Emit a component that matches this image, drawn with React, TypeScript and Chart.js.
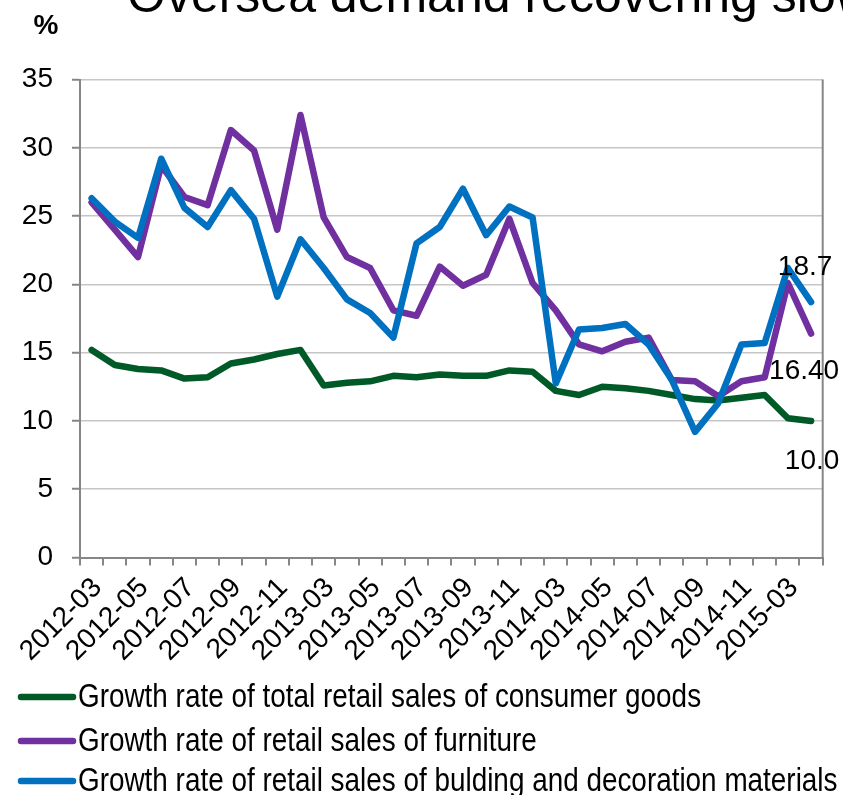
import { useEffect, useRef } from 'react';
import { Chart, registerables } from 'chart.js';

Chart.register(...registerables);

const FONT = '"Liberation Sans", Arial, sans-serif';
const TITLE = 'Oversea demand recovering slowly';
const UNIT = '%';

const categories = [
  '2012-03', '2012-04', '2012-05', '2012-06', '2012-07', '2012-08', '2012-09', '2012-10', '2012-11', '2012-12',
  '2013-03', '2013-04', '2013-05', '2013-06', '2013-07', '2013-08', '2013-09', '2013-10', '2013-11', '2013-12',
  '2014-03', '2014-04', '2014-05', '2014-06', '2014-07', '2014-08', '2014-09', '2014-10', '2014-11', '2014-12',
  '2015-03', '2015-04',
];

const consumerGoods = [
  15.2, 14.1, 13.8, 13.7, 13.1, 13.2, 14.2, 14.5, 14.9, 15.2,
  12.6, 12.8, 12.9, 13.3, 13.2, 13.4, 13.3, 13.3, 13.7, 13.6,
  12.2, 11.9, 12.5, 12.4, 12.2, 11.9, 11.6, 11.5, 11.7, 11.9,
  10.2, 10.0,
];

const furniture = [
  26.0, 24.0, 22.0, 28.7, 26.4, 25.8, 31.3, 29.8, 24.0, 32.4,
  24.9, 22.0, 21.2, 18.1, 17.7, 21.3, 19.9, 20.7, 24.8, 20.1,
  18.1, 15.6, 15.1, 15.8, 16.1, 13.0, 12.9, 11.8, 12.9, 13.2,
  20.1, 16.4,
];

const buildingMaterials = [
  26.3, 24.6, 23.4, 29.2, 25.6, 24.2, 26.9, 24.8, 19.1, 23.3,
  21.2, 18.9, 17.9, 16.1, 23.0, 24.2, 27.0, 23.6, 25.7, 24.9,
  12.75, 16.7, 16.8, 17.1, 15.6, 13.0, 9.2, 11.3, 15.6, 15.7,
  21.2, 18.7,
];

const seriesNames = [
  'Growth rate of total retail sales of consumer goods',
  'Growth rate of retail sales of furniture',
  'Growth rate of retail sales of bulding and decoration materials',
];
const seriesColors = ['#005a27', '#7030a0', '#0070c0'];
const endLabelDigits = [1, 2, 1];
const endLabelOffsets = [
  { dx: 1, dy: 40 },
  { dx: -7, dy: 38 },
  { dx: -6, dy: -35 },
];

const yTicks = { min: 0, max: 35, step: 5 };

const decorPlugin = {
  id: 'decor',
  afterDraw(chart: any) {
    const ctx = chart.ctx;
    const { chartArea, scales } = chart;
    ctx.save();
    // right border
    ctx.strokeStyle = '#868686';
    ctx.lineWidth = 2;
    ctx.beginPath();
    ctx.moveTo(chartArea.right, chartArea.top);
    ctx.lineTo(chartArea.right, chartArea.bottom);
    ctx.stroke();

    // title (clipped at top)
    ctx.fillStyle = '#000';
    ctx.font = `50px ${FONT}`;
    ctx.textAlign = 'left';
    ctx.textBaseline = 'alphabetic';
    ctx.fillText(TITLE, 127, 12);

    // unit
    ctx.font = `bold 28px ${FONT}`;
    ctx.textAlign = 'center';
    ctx.textBaseline = 'middle';
    ctx.fillText(UNIT, 46, 26);

    // end labels
    ctx.font = `28px ${FONT}`;
    chart.data.datasets.forEach((ds: any, i: number) => {
      const last = ds.data.length - 1;
      const v = ds.data[last];
      const x = scales.x.getPixelForValue(last);
      const y = scales.y.getPixelForValue(v);
      const off = endLabelOffsets[i];
      ctx.fillText(v.toFixed(endLabelDigits[i]), x + off.dx, y + off.dy);
    });

    // legend (condensed text)
    const rows = [697, 741, 781];
    seriesNames.forEach((name, i) => {
      const y = rows[i];
      ctx.strokeStyle = seriesColors[i];
      ctx.lineWidth = 6.5;
      ctx.lineCap = 'round';
      ctx.beginPath();
      ctx.moveTo(21, y);
      ctx.lineTo(73, y);
      ctx.stroke();
      ctx.save();
      ctx.fillStyle = '#000';
      ctx.textAlign = 'left';
      ctx.textBaseline = 'middle';
      ctx.font = `33px ${FONT}`;
      ctx.translate(78, y);
      ctx.scale(0.845, 1);
      ctx.fillText(name, 0, 1);
      ctx.restore();
    });
    ctx.restore();
  },
};

export default function App() {
  const ref = useRef<HTMLCanvasElement | null>(null);

  useEffect(() => {
    if (!ref.current) return;
    const seriesData = [consumerGoods, furniture, buildingMaterials];
    const chart = new Chart(ref.current, {
      type: 'line',
      data: {
        labels: categories,
        datasets: seriesData.map((d, i) => ({
          label: seriesNames[i],
          data: d,
          borderColor: seriesColors[i],
          backgroundColor: seriesColors[i],
          borderWidth: 6.5,
          pointRadius: 0,
          tension: 0,
          fill: false,
          borderJoinStyle: 'round' as const,
          borderCapStyle: 'round' as const,
          order: 2 - i,
        })),
      },
      options: {
        responsive: false,
        animation: false,
        layout: { padding: { top: 79.5, right: 20.3, left: 0, bottom: 0 } },
        plugins: {
          legend: { display: false },
          title: { display: false },
          tooltip: { enabled: false },
        },
        scales: {
          x: {
            type: 'category',
            offset: true,
            afterFit(scale: any) {
              scale.height = 237.5;
            },
            grid: {
              offset: true,
              drawOnChartArea: false,
              drawTicks: true,
              tickLength: 8,
              tickColor: '#868686',
              lineWidth: 2,
            },
            border: { color: '#868686', width: 2 },
            ticks: {
              autoSkip: false,
              minRotation: 45,
              maxRotation: 45,
              padding: 6,
              labelOffset: 6,
              color: '#000',
              font: { family: FONT, size: 28 },
              callback(value: any, index: number) {
                return index % 2 === 0 ? categories[index] : '';
              },
            },
          },
          y: {
            min: yTicks.min,
            max: yTicks.max,
            afterFit(scale: any) {
              scale.width = 80;
            },
            grid: {
              color: '#c6c6c6',
              lineWidth: 1.5,
              drawTicks: true,
              tickLength: 8,
              tickColor: '#868686',
              tickWidth: 2,
            },
            border: { color: '#868686', width: 2 },
            ticks: {
              stepSize: yTicks.step,
              padding: 19,
              color: '#000',
              font: { family: FONT, size: 28 },
            },
          },
        },
      },
      plugins: [decorPlugin],
    });
    return () => chart.destroy();
  }, []);

  return (
    <div style={{ position: 'fixed', left: 0, top: 0, width: 843, height: 795, background: '#fff' }}>
      <canvas ref={ref} width={843} height={795} style={{ display: 'block' }} />
    </div>
  );
}
